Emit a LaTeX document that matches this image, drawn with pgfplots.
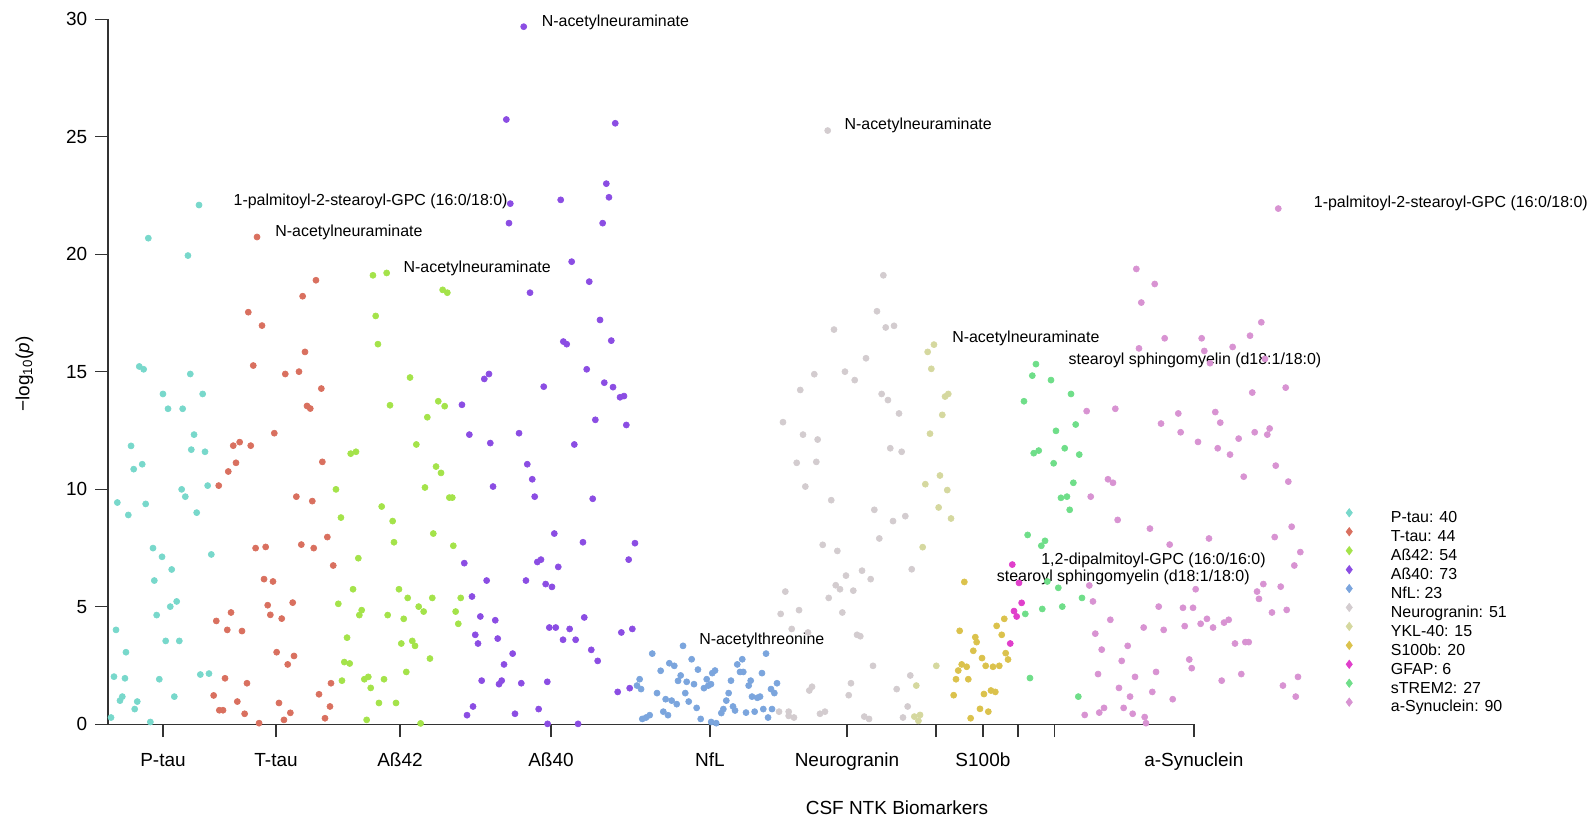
\documentclass[border=0pt]{standalone}
\usepackage{fontspec}
\setmainfont{Liberation Sans}
\usepackage{pgfplots}
\pgfplotsset{compat=1.18}
\definecolor{cPtau}{HTML}{78D8CB}
\definecolor{cTtau}{HTML}{D9705F}
\definecolor{cAb42}{HTML}{A4E34A}
\definecolor{cAb40}{HTML}{8B4DE3}
\definecolor{cNfL}{HTML}{7BA5DD}
\definecolor{cNgr}{HTML}{D3CCCF}
\definecolor{cYKL}{HTML}{D5D89F}
\definecolor{cS100}{HTML}{DBC24C}
\definecolor{cGFAP}{HTML}{E03FCB}
\definecolor{cTREM}{HTML}{6FDE89}
\definecolor{cSyn}{HTML}{D893D2}
\newcommand{\lblfont}{\fontsize{10}{12}\selectfont}
\newcommand{\axfont}{\fontsize{11.9}{14}\selectfont}
\begin{document}
\begin{tikzpicture}
\begin{axis}[
  scale only axis, width=680.9pt, height=442.0pt,
  xmin=106.3, xmax=1175.2, ymin=0, ymax=30,
  clip=false, enlargelimits=false,
  axis lines=left, axis line style={-, black!80, line width=0.75pt},
  tick align=outside, major tick length=8pt,
  tick style={black!80, line width=0.75pt},
  xtick={160.4,271.7,393.7,542.3,698.8,833.7,921.3,967.5,1002.0,1037.8,1175.2},
  xticklabels={P-tau,T-tau,Aß42,Aß40,NfL,Neurogranin,,S100b,,,a-Synuclein},
  ytick={0,5,10,15,20,25,30},
  /pgf/number format/assume math mode=true,
  ticklabel style={font=\axfont},
  yticklabel style={xshift=-1.5pt},
  xticklabel style={text height=8.5pt, text depth=0pt, yshift=-6.5pt},
  xlabel={CSF NTK Biomarkers},
  xlabel style={at={(rel axis cs:0.7266,-0.1182)}, anchor=center, font=\axfont},
  ylabel={−log\textsubscript{10}(\textit{p})},
  ylabel style={at={(rel axis cs:-0.077,0.497)}, anchor=center, font=\axfont},
  legend cell align=left,
  legend style={at={(axis cs:1325,9.18)}, anchor=north west, draw=none, fill=none,
    inner sep=0pt, outer sep=0pt, row sep=0pt, column sep=24.2pt, font=\lblfont,
    nodes={inner sep=0pt, text height=8.2pt, text depth=3.15pt}},
  legend image code/.code={\path[#1] plot[mark=diamond*, mark size=2.6pt] coordinates {(0pt,3.6pt)};},
  every axis plot/.append style={only marks, mark=*, mark size=1.9pt},
]
\addplot[color=cPtau, mark options={draw=cPtau, fill=cPtau}] coordinates {
(160.4,14.06) (199.5,14.06) (165.4,13.43) (179.8,13.43) (191.0,12.33) (129.0,11.85) (188.3,11.69) (201.8,11.60) (140.0,11.07) (131.6,10.86) (178.8,10.00) (204.4,10.16) (182.4,9.69) (115.5,9.44) (143.4,9.38) (126.3,8.91) (193.6,9.01) (150.6,7.50) (159.5,7.13) (208.0,7.23) (169.0,6.59) (151.9,6.12) (173.9,5.23) (167.6,5.01) (154.2,4.65) (114.2,4.02) (163.1,3.55) (176.5,3.55) (124.0,3.07) (112.2,2.03) (123.0,1.96) (156.8,1.92) (197.2,2.12) (205.7,2.16) (120.4,1.18) (118.1,1.01) (135.1,0.97) (171.6,1.18) (132.6,0.65) (109.3,0.29) (148.0,0.10) (195.9,22.10) (146.0,20.69) (185.0,19.95) (137.1,15.23) (141.4,15.11) (187.3,14.91)};
\addlegendentry{P-tau: 40}
\addplot[color=cTtau, mark options={draw=cTtau, fill=cTtau}] coordinates {
(253.0,20.74) (311.0,18.90) (297.9,18.22) (244.4,17.54) (257.9,16.97) (300.2,15.85) (249.3,15.27) (280.8,14.91) (294.3,15.01) (316.3,14.29) (302.2,13.55) (305.4,13.44) (270.0,12.39) (229.6,11.86) (235.9,12.01) (246.8,11.86) (317.3,11.17) (232.3,11.13) (224.7,10.76) (215.3,10.16) (291.7,9.69) (307.4,9.50) (322.2,7.97) (251.6,7.50) (261.5,7.55) (296.6,7.65) (308.8,7.50) (328.0,6.76) (259.9,6.18) (268.7,6.08) (263.5,5.07) (288.1,5.18) (266.1,4.66) (277.3,4.50) (227.4,4.76) (212.9,4.40) (223.7,4.02) (238.2,3.97) (272.3,3.07) (289.4,2.91) (283.2,2.55) (221.5,1.96) (243.1,1.75) (325.8,1.75) (210.3,1.23) (233.6,0.97) (274.6,0.91) (314.0,1.28) (215.9,0.60) (219.5,0.60) (240.8,0.45) (285.8,0.49) (324.8,0.76) (279.5,0.19) (319.9,0.26) (255.0,0.05)};
\addlegendentry{T-tau: 44}
\addplot[color=cAb42, mark options={draw=cAb42, fill=cAb42}] coordinates {
(367.1,19.11) (380.6,19.21) (369.8,17.38) (372.0,16.18) (435.7,18.49) (440.3,18.37) (403.6,14.76) (383.9,13.58) (345.2,11.52) (350.4,11.60) (330.7,10.00) (375.7,9.27) (386.5,8.65) (335.6,8.80) (387.8,7.75) (352.7,7.07) (347.5,5.75) (333.0,5.13) (356.0,4.86) (353.7,4.65) (381.6,4.65) (341.6,3.69) (338.9,2.65) (344.2,2.59) (336.6,1.86) (358.6,1.92) (362.5,2.02) (378.0,1.92) (364.9,1.55) (373.0,0.91) (389.8,0.91) (360.9,0.19) (431.4,13.75) (437.7,13.54) (420.6,13.07) (409.8,11.91) (429.2,10.97) (434.1,10.70) (418.3,10.08) (442.3,9.65) (445.2,9.65) (426.5,8.12) (446.2,7.60) (392.7,5.75) (401.3,5.38) (425.5,5.38) (453.5,5.38) (412.1,5.01) (417.0,4.80) (448.5,4.80) (397.4,4.49) (451.1,4.28) (395.0,3.44) (405.8,3.55) (408.5,3.34) (423.2,2.80) (399.9,2.23) (414.0,0.04)};
\addlegendentry{Aß42: 54}
\addplot[color=cAb40, mark options={draw=cAb40, fill=cAb40}] coordinates {
(515.5,29.69) (498.4,25.74) (605.6,25.58) (596.8,23.01) (599.4,22.43) (502.3,22.16) (551.9,22.32) (501.0,21.33) (593.2,21.33) (562.7,19.69) (580.0,18.84) (521.7,18.37) (590.6,17.21) (554.5,16.29) (557.8,16.18) (601.7,16.33) (577.5,15.11) (476.7,14.70) (481.3,14.91) (535.2,14.37) (594.8,14.54) (603.4,14.35) (610.3,13.92) (614.2,13.97) (454.7,13.60) (586.0,12.96) (616.5,12.74) (462.0,12.33) (510.9,12.39) (482.6,11.97) (565.3,11.91) (519.0,11.07) (523.9,10.43) (485.3,10.12) (526.3,9.69) (583.4,9.60) (545.6,8.12) (573.8,7.75) (625.0,7.71) (618.8,7.01) (528.9,6.91) (532.5,7.01) (549.5,6.70) (457.0,6.86) (479.0,6.12) (517.7,6.12) (537.1,5.97) (543.3,5.85) (464.6,5.44) (472.8,4.59) (487.5,4.43) (575.1,4.55) (540.7,4.12) (547.0,4.12) (560.7,4.06) (611.6,3.91) (622.4,4.06) (467.8,3.81) (470.5,3.44) (489.9,3.65) (554.2,3.60) (566.6,3.60) (504.6,3.01) (582.0,3.17) (496.1,2.55) (588.3,2.70) (474.1,1.86) (491.2,1.71) (493.8,1.86) (513.1,1.75) (538.7,1.81) (608.0,1.38) (619.8,1.54) (465.6,0.76) (459.7,0.39) (506.9,0.45) (530.2,0.65) (539.0,0.02) (569.0,0.02)};
\addlegendentry{Aß40: 73}
\addplot[color=cNfL, mark options={draw=cNfL, fill=cNfL}] coordinates {
(672.3,3.34) (642.0,3.01) (658.8,2.60) (663.7,2.49) (650.3,2.28) (670.0,2.08) (667.4,1.85) (675.9,1.81) (629.6,1.92) (627.0,1.65) (631.0,1.50) (646.7,1.33) (674.5,1.33) (655.2,1.07) (661.1,1.01) (666.1,0.86) (677.9,0.97) (639.5,0.39) (635.9,0.29) (632.2,0.23) (652.9,0.54) (657.5,0.39) (680.8,2.77) (754.0,3.01) (730.6,2.77) (687.0,2.33) (725.7,2.55) (703.8,2.29) (701.1,2.18) (728.4,2.23) (731.6,2.23) (750.0,2.18) (683.1,1.71) (695.6,1.92) (699.8,1.71) (692.9,1.54) (697.2,1.65) (719.5,1.86) (738.9,1.86) (736.9,1.65) (764.8,1.75) (758.9,1.50) (762.2,1.33) (717.2,1.33) (740.2,1.18) (745.4,1.13) (748.1,1.18) (714.9,1.01) (721.5,0.76) (723.5,0.59) (685.7,0.70) (712.0,0.65) (710.0,0.48) (734.3,0.50) (742.8,0.54) (751.3,0.65) (759.9,0.65) (756.0,0.29) (689.7,0.23) (700.0,0.10) (705.0,0.05)};
\addlegendentry{NfL: 23}
\addplot[color=cNgr, mark options={draw=cNgr, fill=cNgr}] coordinates {
(814.7,25.27) (869.5,19.11) (863.2,17.58) (820.9,16.80) (871.8,16.89) (880.0,16.96) (852.4,15.58) (801.5,14.90) (831.7,15.01) (841.3,14.65) (787.7,14.23) (867.8,14.06) (874.0,13.80) (884.9,13.23) (770.7,12.86) (790.4,12.33) (804.8,12.12) (876.3,11.75) (887.5,11.60) (784.2,11.13) (803.5,11.17) (792.7,10.12) (818.2,9.54) (860.6,9.13) (879.0,8.65) (891.1,8.86) (865.5,7.91) (809.8,7.64) (824.2,7.38) (897.4,6.60) (848.5,6.54) (832.7,6.33) (857.0,6.18) (822.6,5.92) (826.8,5.75) (839.9,5.69) (773.0,5.65) (815.7,5.38) (786.5,4.86) (768.4,4.70) (829.1,4.76) (779.3,4.06) (795.3,3.91) (843.6,3.81) (846.8,3.75) (859.3,2.49) (896.0,2.08) (837.6,1.75) (882.6,1.50) (796.6,1.44) (799.3,1.60) (835.4,1.24) (893.4,0.76) (807.1,0.45) (812.0,0.54) (850.7,0.33) (855.4,0.23) (766.8,0.54) (776.3,0.54) (776.3,0.36) (781.5,0.29) (888.8,0.29)};
\addlegendentry{Neurogranin: 51}
\addplot[color=cYKL, mark options={draw=cYKL, fill=cYKL}] coordinates {
(919.3,16.16) (913.1,15.85) (916.7,15.13) (933.4,14.06) (930.2,13.95) (927.5,13.17) (915.4,12.37) (925.2,10.59) (910.8,10.22) (932.4,9.97) (923.9,9.23) (936.1,8.76) (908.2,7.54) (921.6,2.49) (901.9,1.65) (905.6,0.40) (900.0,0.33) (904.0,0.15)};
\addlegendentry{YKL-40: 15}
\addplot[color=cS100, mark options={draw=cS100, fill=cS100}] coordinates {
(949.2,6.06) (944.6,3.98) (960.0,3.71) (961.3,3.50) (958.0,3.13) (946.6,2.55) (951.5,2.45) (943.2,2.29) (941.0,1.92) (953.1,1.92) (938.7,1.24) (955.4,0.26) (988.5,4.49) (981.0,4.19) (986.0,3.81) (966.6,2.82) (989.9,3.03) (992.2,2.76) (970.2,2.49) (977.4,2.45) (983.6,2.49) (968.5,1.29) (975.4,1.44) (979.7,1.38) (964.6,0.66) (972.8,0.54)};
\addlegendentry{S100b: 20}
\addplot[color=cGFAP, mark options={draw=cGFAP, fill=cGFAP}] coordinates {
(996.4,6.80) (1003.0,6.02) (1005.6,5.17) (998.1,4.82) (1000.7,4.59) (994.4,3.44)};
\addlegendentry{GFAP: 6}
\addplot[color=cTREM, mark options={draw=cTREM, fill=cTREM}] coordinates {
(1019.7,15.33) (1016.1,14.84) (1034.5,14.65) (1054.2,14.06) (1007.9,13.75) (1058.8,12.76) (1039.4,12.49) (1017.5,11.54) (1022.4,11.65) (1048.0,11.75) (1062.3,11.48) (1037.1,11.11) (1056.5,10.28) (1044.3,9.64) (1050.2,9.69) (1052.9,9.13) (1011.5,8.06) (1028.6,7.81) (1025.0,7.60) (1030.9,6.08) (1041.7,5.81) (1065.0,5.38) (1045.6,5.01) (1025.9,4.91) (1009.2,4.70) (1013.8,1.97) (1061.4,1.18)};
\addlegendentry{sTREM2: 27}
\addplot[color=cSyn, mark options={draw=cSyn, fill=cSyn}] coordinates {
(1258.2,21.95) (1118.5,19.38) (1136.6,18.74) (1123.4,17.95) (1241.5,17.11) (1230.4,16.54) (1146.4,16.43) (1182.8,16.43) (1213.3,16.06) (1121.1,16.00) (1185.4,15.89) (1191.0,15.37) (1245.1,15.55) (1265.5,14.33) (1232.6,14.12) (1069.6,13.33) (1097.8,13.43) (1159.8,13.23) (1196.2,13.29) (1142.8,12.80) (1201.1,12.84) (1162.1,12.43) (1249.7,12.59) (1247.4,12.33) (1235.0,12.43) (1219.2,12.16) (1179.2,12.02) (1198.6,11.75) (1210.7,11.48) (1255.7,11.01) (1224.2,10.54) (1090.6,10.43) (1095.5,10.28) (1268.1,10.33) (1073.6,9.69) (1100.1,8.70) (1131.9,8.33) (1190.0,7.91) (1254.7,7.97) (1151.3,7.65) (1072.2,5.91) (1176.9,5.75) (1237.3,5.65) (1239.2,5.34) (1260.6,5.86) (1243.5,5.97) (1075.8,5.23) (1140.5,5.01) (1164.4,4.96) (1174.3,4.96) (1252.0,4.76) (1266.5,4.87) (1092.9,4.45) (1125.7,4.12) (1145.4,4.02) (1166.1,4.18) (1181.8,4.28) (1188.0,4.49) (1194.0,4.12) (1204.8,4.33) (1209.4,4.45) (1078.1,3.86) (1215.6,3.44) (1225.8,3.50) (1229.1,3.50) (1110.0,3.34) (1084.4,3.18) (1170.6,2.76) (1173.0,2.39) (1104.1,2.70) (1137.9,2.23) (1080.8,2.14) (1221.8,2.14) (1117.2,2.02) (1202.5,1.86) (1262.8,1.65) (1101.4,1.55) (1134.2,1.38) (1112.3,1.18) (1154.3,1.07) (1086.7,0.70) (1082.0,0.50) (1106.0,0.70) (1067.7,0.40) (1114.9,0.45) (1126.7,0.31) (1128.0,0.05) (1271.4,8.41) (1279.9,7.33) (1274.0,6.76) (1277.6,2.02) (1275.4,1.18)};
\addlegendentry{a-Synuclein: 90}
% point annotations
\begin{scope}[every node/.style={anchor=west, inner sep=0pt, font=\lblfont, text height=7.16pt, text depth=0pt}]
\node at (axis cs:533,29.95) {N-acetylneuraminate};
\node at (axis cs:831,25.55) {N-acetylneuraminate};
\node at (axis cs:229.7,22.34) {1-palmitoyl-2-stearoyl-GPC (16:0/18:0)};
\node at (axis cs:270.7,21.01) {N-acetylneuraminate};
\node at (axis cs:397,19.48) {N-acetylneuraminate};
\node at (axis cs:937,16.50) {N-acetylneuraminate};
\node at (axis cs:1051.6,15.55) {stearoyl sphingomyelin (d18:1/18:0)};
\node at (axis cs:1293,22.22) {1-palmitoyl-2-stearoyl-GPC (16:0/18:0)};
\node at (axis cs:1024.7,7.04) {1,2-dipalmitoyl-GPC (16:0/16:0)};
\node at (axis cs:981,6.31) {stearoyl sphingomyelin (d18:1/18:0)};
\node at (axis cs:688,3.63) {N-acetylthreonine};
\end{scope}
\path (axis cs:0,-4.150) rectangle (axis cs:1568,30.826);
\end{axis}
\end{tikzpicture}
\end{document}
